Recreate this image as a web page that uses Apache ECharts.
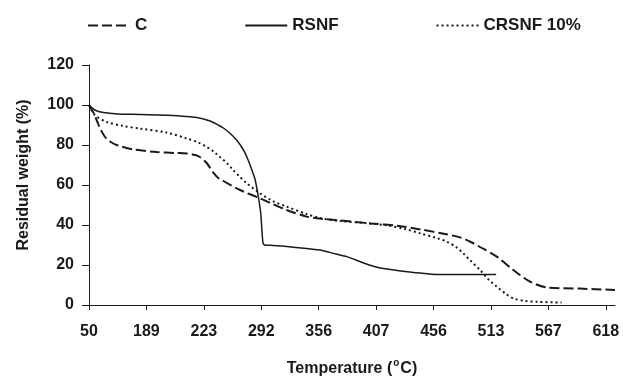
<!DOCTYPE html>
<html>
<head>
<meta charset="utf-8">
<script src="https://cdn.jsdelivr.net/npm/echarts@6/dist/echarts.min.js"></script>
<style>
html,body{margin:0;padding:0;background:#fff;}
#chart{width:623px;height:378px;}
</style>
</head>
<body>
<div id="chart"></div>
<script>
// Tick labels of the temperature axis (evenly spaced category ticks)
var tempLabels = ['50', '189', '223', '292', '356', '407', '456', '513', '567', '618'];
var tickPositions = [0, 1, 2, 3, 4, 5, 6, 7, 8, 9];
var seriesNames = ['C', 'RSNF', 'CRSNF 10%'];

// Points as [position along the tick axis (tick index), residual weight %]
var cData = [
  [0, 100], [0.08, 96], [0.14, 92], [0.19, 88.5], [0.28, 84], [0.38, 81.5], [0.48, 80],
  [0.77, 77.8], [1.18, 76.5], [1.5, 76], [1.7, 75.8], [1.85, 75], [1.93, 74], [2.05, 71],
  [2.12, 68], [2.17, 66], [2.25, 63.5], [2.34, 62], [2.63, 57.5], [2.98, 53.3], [3.2, 50.5],
  [3.44, 47.5], [3.79, 44.2], [4.02, 43.2], [4.37, 42.3], [4.9, 40.8], [5.4, 39.5],
  [5.77, 37.8], [6.2, 35.5], [6.46, 33.8], [6.65, 31.5], [6.81, 29], [7.1, 24.2],
  [7.39, 17.5], [7.68, 11.7], [7.97, 8.8], [8.55, 8.2], [9.16, 7.5]
];
var rsnfData = [
  [0, 100], [0.1, 97.5], [0.25, 96.2], [0.5, 95.5], [0.89, 95.3], [1.2, 95], [1.59, 94.5],
  [1.88, 93.7], [2.11, 92], [2.25, 90], [2.34, 88.5], [2.45, 86], [2.57, 82.5], [2.68, 78],
  [2.75, 74], [2.83, 68], [2.89, 63], [2.95, 54], [2.99, 46], [3.01, 38], [3.03, 31],
  [3.06, 30], [3.21, 29.8], [3.6, 28.8], [4.02, 27.5], [4.3, 25.5], [4.49, 24.2],
  [4.78, 21], [5.0, 19], [5.19, 18], [5.5, 16.8], [5.77, 16], [6.06, 15.3], [6.6, 15.2],
  [7.09, 15.2]
];
var crsnfData = [
  [0, 100], [0.1, 95], [0.31, 91.5], [0.6, 89.5], [0.89, 88.2], [1.35, 86.2], [1.7, 83.3],
  [1.9, 81.3], [2.05, 79], [2.18, 76.5], [2.28, 74], [2.4, 71], [2.51, 67.5], [2.63, 64],
  [2.75, 60.8], [2.98, 55.8], [3.2, 52], [3.44, 49.2], [3.79, 45.5], [4.02, 43.5],
  [4.37, 42], [4.8, 41], [5.19, 39.8], [5.5, 38], [5.77, 35.8], [6.05, 33.5], [6.23, 31.7],
  [6.4, 28.8], [6.52, 25.8], [6.65, 22], [6.81, 17.5], [6.95, 13], [7.1, 9.2], [7.25, 5.8],
  [7.39, 3.3], [7.6, 2], [7.8, 1.6], [8.23, 1.2]
];

var FONT = 'Liberation Sans, Arial, sans-serif';
var INK = '#1a1a1a';

var chart = echarts.init(document.getElementById('chart'), null, {renderer: 'canvas'});
chart.setOption({
  animation: false,
  backgroundColor: '#fff',
  legend: {
    left: 82,
    top: 12,
    itemWidth: 42,
    itemHeight: 14,
    itemGap: 97,
    data: seriesNames,
    itemStyle: {opacity: 0},
    textStyle: {fontFamily: FONT, fontWeight: 'bold', fontSize: 17, color: INK}
  },
  grid: {left: 89, right: 8, top: 65, bottom: 73, containLabel: false, outerBoundsMode: 'none'},
  xAxis: {
    type: 'value',
    min: 0,
    max: 9.16,
    name: 'Temperature ({sup|o}C)',
    nameLocation: 'middle',
    nameGap: 53,
    nameTextStyle: {
      fontFamily: FONT, fontWeight: 'bold', fontSize: 16, color: INK,
      rich: {sup: {fontFamily: FONT, fontWeight: 'bold', fontSize: 10, color: INK, verticalAlign: 'top', padding: [0, 1, 12, 1]}}
    },
    axisLine: {show: true, lineStyle: {color: INK, width: 1}},
    axisTick: {show: true, length: 5, customValues: tickPositions, lineStyle: {color: INK}},
    axisLabel: {
      customValues: tickPositions,
      margin: 19,
      fontFamily: FONT, fontWeight: 'bold', fontSize: 16, color: INK,
      formatter: function (v) { return tempLabels[Math.round(v)]; }
    },
    splitLine: {show: false}
  },
  yAxis: {
    type: 'value',
    min: 0,
    max: 120,
    interval: 20,
    name: 'Residual weight (%)',
    nameLocation: 'middle',
    nameGap: 57,
    nameTextStyle: {fontFamily: FONT, fontWeight: 'bold', fontSize: 16, color: INK, padding: [0, 0, 0, 20]},
    axisLine: {show: true, lineStyle: {color: INK, width: 1}},
    axisTick: {show: true, length: 7, lineStyle: {color: INK}},
    axisLabel: {margin: 15, fontFamily: FONT, fontWeight: 'bold', fontSize: 16, color: INK},
    splitLine: {show: false}
  },
  series: [
    {
      name: seriesNames[0], type: 'line', data: cData, symbol: 'none', smooth: 0.3,
      lineStyle: {color: INK, width: 2, type: [10, 4]}, itemStyle: {color: INK}
    },
    {
      name: seriesNames[1], type: 'line', data: rsnfData, symbol: 'none', smooth: 0.2,
      lineStyle: {color: INK, width: 1.5, type: 'solid'}, itemStyle: {color: INK}
    },
    {
      name: seriesNames[2], type: 'line', data: crsnfData, symbol: 'none', smooth: 0.3,
      lineStyle: {color: INK, width: 2, type: [2, 3]}, itemStyle: {color: INK}
    }
  ]
});
</script>
</body>
</html>
